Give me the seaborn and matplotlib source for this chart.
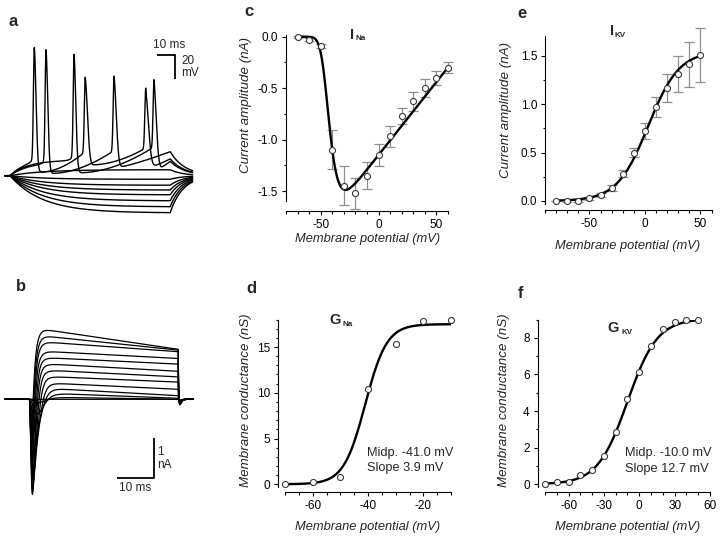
import numpy as np
import pandas as pd
import matplotlib
matplotlib.use("Agg")
import matplotlib.pyplot as plt
from matplotlib.ticker import MultipleLocator
import seaborn as sns

# ---------------- panel c : I_Na current-voltage ----------------
c_v = [-70, -60, -50, -40, -30, -20, -10, 0, 10, 20, 30, 40, 50, 60]
c_i = [0.0, -0.03, -0.09, -1.10, -1.45, -1.52, -1.35, -1.15, -0.97, -0.77, -0.63, -0.50, -0.40, -0.30]
c_err = [0.01, 0.015, 0.02, 0.19, 0.19, 0.15, 0.13, 0.11, 0.10, 0.08, 0.09, 0.085, 0.07, 0.05]
c_fit = dict(g=0.0142, erev=81.0, vh=-48.8, k=4.8)

# ---------------- panel e : I_KV current-voltage ----------------
e_v = [-80, -70, -60, -50, -40, -30, -20, -10, 0, 10, 20, 30, 40, 50]
e_i = [0.0, 0.0, 0.0, 0.03, 0.06, 0.13, 0.28, 0.50, 0.72, 0.97, 1.17, 1.31, 1.41, 1.51]
e_err = [0.005, 0.01, 0.01, 0.015, 0.02, 0.03, 0.035, 0.05, 0.08, 0.10, 0.145, 0.19, 0.235, 0.28]
e_fit = dict(imax=1.55, vh=3.0, k=14.0)

# ---------------- panel d : G_Na ----------------
d_v = [-70, -60, -50, -40, -30, -20, -10]
d_g = [0.0, 0.25, 0.8, 10.45, 15.3, 17.9, 18.0]
d_fit = dict(gmax=17.5, vh=-41.0, k=3.9)
d_text = "Midp. -41.0 mV\nSlope 3.9 mV"

# ---------------- panel f : G_KV ----------------
f_v = [-80, -70, -60, -50, -40, -30, -20, -10, 0, 10, 20, 30, 40, 50]
f_g = [0.0, 0.1, 0.15, 0.5, 0.8, 1.55, 2.88, 4.65, 6.15, 7.58, 8.5, 8.85, 8.97, 9.0]
f_fit = dict(gmax=9.05, vh=-10.0, k=12.7)
f_text = "Midp. -10.0 mV\nSlope 12.7 mV"

# ---------------- panel a : voltage responses (mV rel. to rest, ms) ----------------
a_hyper_ss = [-3, -8, -12, -16, -21, -26, -31]
a_sub_ss = [5]
a_spk_times = [[13.5, 41.8, 75.4], [20.0, 57.8], [35.6, 80.0]]
a_spk_peaks = [[107, 82, 73], [105, 83], [101, 80]]
a_spk_thr = [[16, 20, 23], [14, 21], [18, 24]]
a_spk_ahp = [[3, 9, 8], [2, 7.5], [2.5, 7]]
a_spk_end = [14, 20, 12]
a_t_off = 89.0

# ---------------- panel b : current responses (nA, ms) ----------------
b_na_amp = [0.9, 1.3, 1.7, 2.1, 2.5, 2.4, 2.2, 1.9, 1.4, 0.9, 0.4, 0.1, 0.0]
b_na_tp = [0.6, 0.65, 0.7, 0.75, 0.85, 0.95, 1.1, 1.3, 1.6, 1.9, 2.3, 2.6, 1.0]
b_k_start = [1.80, 1.62, 1.46, 1.22, 1.06, 0.91, 0.75, 0.59, 0.43, 0.30, 0.17, 0.06, 0.0]
b_k_end = [1.25, 1.23, 1.19, 1.02, 0.88, 0.70, 0.56, 0.43, 0.25, 0.09, 0.025, 0.0, 0.0]
b_k_tau = [0.75, 0.8, 0.85, 0.9, 0.95, 1.05, 1.15, 1.25, 1.4, 1.6, 1.9, 2.1, 1.0]
b_t_end = 39.7

# ================= style =================
sns.set_theme(style="ticks")
plt.rcParams['font.family'] = ['Liberation Sans', 'DejaVu Sans']
plt.rcParams['axes.linewidth'] = 0.8
plt.rcParams['axes.unicode_minus'] = False

W, H = 720, 538
fig = plt.figure(figsize=(7.2, 5.38), dpi=100)
fig.patch.set_facecolor('white')


def add_ax(x0, y0, x1, y1):
    return fig.add_axes([x0 / W, 1 - y1 / H, (x1 - x0) / W, (y1 - y0) / H])


def ftext(x, y, s, **kw):
    fig.text(x / W, 1 - y / H, s, **kw)


def style(ax, xlim, ylim, xmaj, xmin, ymaj, ymin, left_off, bottom_off):
    ax.set_xlim(*xlim)
    ax.set_ylim(*ylim)
    ax.set_facecolor('white')
    sns.despine(ax=ax)
    ax.spines['left'].set_position(('outward', left_off * 0.72))
    ax.spines['bottom'].set_position(('outward', bottom_off * 0.72))
    for sp in ('left', 'bottom'):
        ax.spines[sp].set_color('black')
        ax.spines[sp].set_linewidth(0.8)
    ax.xaxis.set_major_locator(MultipleLocator(xmaj))
    ax.xaxis.set_minor_locator(MultipleLocator(xmin))
    ax.yaxis.set_major_locator(MultipleLocator(ymaj))
    ax.yaxis.set_minor_locator(MultipleLocator(ymin))
    ax.tick_params(which='major', direction='out', length=3.2, width=0.8,
                   labelsize=8.5, pad=2.5, colors='black')
    ax.tick_params(which='minor', direction='out', length=1.8, width=0.8, colors='black')
    ax.grid(False)


def labels(ax, box, xlab, xlab_px, ylab, ylab_px):
    x0, y0, x1, y1 = box
    ax.set_xlabel(xlab, fontsize=9.3, style='italic')
    ax.set_ylabel(ylab, fontsize=9.6, style='italic')
    ax.xaxis.set_label_coords((xlab_px[0] - x0) / (x1 - x0), (y1 - xlab_px[1]) / (y1 - y0))
    ax.yaxis.set_label_coords((ylab_px[0] - x0) / (x1 - x0), (y1 - ylab_px[1]) / (y1 - y0))
    ax.xaxis.label.set_va('center')
    ax.yaxis.label.set_va('center')


def points(ax, xs, ys, err=None):
    if err is not None:
        ax.errorbar(xs, ys, yerr=err, fmt='none', ecolor='#8f8f8f', elinewidth=0.9,
                    capsize=3.3, capthick=0.9, zorder=2, clip_on=False)
    sns.scatterplot(x=xs, y=ys, ax=ax, s=19, marker='o', facecolor='white',
                    edgecolor='#3a3a3a', linewidth=0.8, zorder=4, clip_on=False, legend=False)


def boltz(v, vh, k):
    return 1.0 / (1.0 + np.exp((vh - v) / k))


# ================= panel c =================
box_c = (286, 34.6, 448, 201.3)
axc = add_ax(*box_c)
vv = np.linspace(-70, 60, 400)
cc = c_fit['g'] * (vv - c_fit['erev']) * boltz(vv, c_fit['vh'], c_fit['k']) ** 3
sns.lineplot(x=vv, y=cc, ax=axc, color='black', lw=1.7, zorder=3, sort=False)
points(axc, c_v, c_i, c_err)
style(axc, (-80, 60), (-1.6, 0.02), 50, 10, 0.5, 0.25, 0, 9.5)
axc.yaxis.set_major_formatter(matplotlib.ticker.FormatStrFormatter('%.1f'))
labels(axc, box_c, "Membrane potential (mV)", (368, 239), "Current amplitude (nA)", (246.5, 105))

# ================= panel e =================
box_e = (545, 36.3, 711.5, 203.9)
axe = add_ax(*box_e)
vv = np.linspace(-80, 50, 400)
ee = e_fit['imax'] * boltz(vv, e_fit['vh'], e_fit['k'])
sns.lineplot(x=vv, y=ee, ax=axe, color='black', lw=1.7, zorder=3, sort=False)
points(axe, e_v, e_i, e_err)
style(axe, (-90, 60), (-0.03, 1.7), 50, 10, 0.5, 0.25, 0, 6)
axe.yaxis.set_major_formatter(matplotlib.ticker.FormatStrFormatter('%.1f'))
labels(axe, box_e, "Membrane potential (mV)", (628, 246), "Current amplitude (nA)", (506.5, 110))

# ================= panel d =================
box_d = (285, 319.6, 451, 487)
axd = add_ax(*box_d)
vv = np.linspace(-70, -10, 400)
dd = d_fit['gmax'] * boltz(vv, d_fit['vh'], d_fit['k'])
sns.lineplot(x=vv, y=dd, ax=axd, color='black', lw=1.7, zorder=3, sort=False)
points(axd, d_v, d_g)
style(axd, (-70, -10), (-0.3, 18), 20, 5, 5, 1, 7, 4.7)
labels(axd, box_d, "Membrane potential (mV)", (368, 527), "Membrane conductance (nS)", (246.5, 400))
ftext(367.3, 460.5, d_text, fontsize=9.2, ha='left', va='center', linespacing=1.35)

# ================= panel f =================
box_f = (545, 319.6, 710, 487)
axf = add_ax(*box_f)
vv = np.linspace(-80, 50, 400)
ff = f_fit['gmax'] * boltz(vv, f_fit['vh'], f_fit['k'])
sns.lineplot(x=vv, y=ff, ax=axf, color='black', lw=1.7, zorder=3, sort=False)
points(axf, f_v, f_g)
style(axf, (-80, 60), (-0.15, 9), 30, 10, 2, 1, 7.3, 4.7)
labels(axf, box_f, "Membrane potential (mV)", (628, 527), "Membrane conductance (nS)", (503.5, 400))
ftext(625, 461, f_text, fontsize=9.2, ha='left', va='center', linespacing=1.35)

# ================= panel a : voltage traces =================
ta = np.arange(-2.8, 101.5, 0.04)


def passive(ss, tau=18.0, tau_off=7.0):
    v = np.where(ta < 0, 0.0, ss * (1 - np.exp(-np.clip(ta, 0, None) / tau)))
    v_off = ss * (1 - np.exp(-a_t_off / tau))
    return np.where(ta > a_t_off, v_off * np.exp(-(ta - a_t_off) / tau_off), v)


def spiking(times, peaks, thrs, ahps, v_end):
    slow = np.zeros_like(ta)
    t1, th1 = times[0], thrs[0]
    b = 0.3 * th1
    a = (th1 - b) / (1 - np.exp(-t1 / 10))
    m = (ta >= 0) & (ta < t1)
    slow[m] = a * (1 - np.exp(-ta[m] / 10)) + b * np.exp((ta[m] - t1) / 1.5)
    n = len(times)
    for i in range(n):
        ts, th, ah = times[i], thrs[i], ahps[i]
        t_a = ts + 4.0
        m = (ta >= ts) & (ta < t_a)
        slow[m] = th + (ah - th) * (1 - np.exp(-(ta[m] - ts) / 1.0)) / (1 - np.exp(-4.0 / 1.0))
        if i + 1 < n:
            tn, thn = times[i + 1], thrs[i + 1]
            m = (ta >= t_a) & (ta < tn)
            u = (ta[m] - t_a) / (tn - t_a)
            slow[m] = ah + (thn - ah) * u ** 1.8
        else:
            m = (ta >= t_a) & (ta <= a_t_off)
            u = (ta[m] - t_a) / (a_t_off - t_a)
            slow[m] = ah + (v_end - ah) * u ** 1.2
            m = ta > a_t_off
            slow[m] = v_end * np.exp(-(ta[m] - a_t_off) / 8.0)
    v = slow.copy()
    for i in range(n):
        dt = ta - times[i]
        w = np.where(dt < 0, 0.7, 1.4 + 0.45 * i)
        v += (peaks[i] - thrs[i]) * np.exp(-(dt / w) ** 2)
    return v


a_rows = []
k = 0
for ss in a_hyper_ss + a_sub_ss:
    a_rows.append(pd.DataFrame({'t': ta, 'v': passive(ss), 'trace': k}))
    k += 1
for i in range(len(a_spk_times)):
    a_rows.append(pd.DataFrame({'t': ta, 'v': spiking(a_spk_times[i], a_spk_peaks[i], a_spk_thr[i],
                                                      a_spk_ahp[i], a_spk_end[i]), 'trace': k}))
    k += 1
df_a = pd.concat(a_rows, ignore_index=True)

axa = add_ax(0, 30, 200, 230)
sns.lineplot(data=df_a, x='t', y='v', units='trace', estimator=None, ax=axa,
             color='black', lw=1.0, legend=False, sort=False)
axa.set_xlim((0 - 10) / 1.8, (200 - 10) / 1.8)
axa.set_ylim((175.7 - 230) / 1.2, (175.7 - 30) / 1.2)
axa.axis('off')
# scale bar 10 ms / 20 mV
axa.plot([81.67, 91.67, 91.67], [100.6, 100.6, 80.6], color='black', lw=1.3, solid_capstyle='butt')
axa.text(88.3, 109.3, "10 ms", fontsize=8.5, ha='center', va='center')
axa.text(95.2, 96.0, "20", fontsize=8.5, ha='left', va='center')
axa.text(95.2, 85.5, "mV", fontsize=8.5, ha='left', va='center')

# ================= panel b : current traces =================
tb = np.arange(-6.5, 43.8, 0.02)


def current(na_amp, na_tp, k_start, k_end, k_tau):
    s = np.clip(tb, 0, None)
    na = -na_amp * (s / na_tp) ** 3 * np.exp(3 * (1 - s / na_tp))
    kk = (1 - np.exp(-s / k_tau)) ** 4 * (k_start - (k_start - k_end) * s / b_t_end)
    i = np.where(tb < 0, 0.0, na + kk)
    i_end = np.interp(b_t_end, tb, i)
    d = np.clip(tb - b_t_end, 0, None)
    tail = 0.03 + 0.15 * k_end / 1.25
    after = i_end * np.exp(-d / 0.12) - tail * (d / 0.3) * np.exp(1 - d / 0.3)
    return np.where(tb > b_t_end, after, i)


b_rows = []
for j in range(len(b_na_amp)):
    b_rows.append(pd.DataFrame({'t': tb, 'i': current(b_na_amp[j], b_na_tp[j], b_k_start[j],
                                                      b_k_end[j], b_k_tau[j]), 'trace': j}))
df_b = pd.concat(b_rows, ignore_index=True)

axb = add_ax(0, 300, 200, 520)
sns.lineplot(data=df_b, x='t', y='i', units='trace', estimator=None, ax=axb,
             color='black', lw=0.9, legend=False, sort=False)
axb.set_xlim((0 - 29.3) / 3.75, (200 - 29.3) / 3.75)
axb.set_ylim((399.3 - 520) / 40, (399.3 - 300) / 40)
axb.axis('off')
axb.plot([23.3, 33.25, 33.25], [-1.975, -1.975, -0.975], color='black', lw=1.3, solid_capstyle='butt')
axb.text(34.1, -1.31, "1", fontsize=8.5, ha='left', va='center')
axb.text(34.1, -1.64, "nA", fontsize=8.5, ha='left', va='center')
axb.text(28.3, -2.21, "10 ms", fontsize=8.5, ha='center', va='center')

# ================= panel letters & titles =================
for lab, x, y in [('a', 12.7, 21.7), ('b', 20.7, 286.7), ('c', 249.3, 12.0),
                  ('e', 521.7, 13.3), ('d', 251.7, 288.3), ('f', 520, 293.3)]:
    ftext(x, y, lab, fontsize=12, fontweight='bold', ha='center', va='center')

for main, sub, x, y, xs, ys in [('I', 'Na', 352.3, 34.7, 355.5, 38.8),
                                ('I', 'KV', 611.7, 31.0, 614.8, 35.8),
                                ('G', 'Na', 334.7, 320.0, 342.5, 324.5),
                                ('G', 'KV', 613.3, 328.3, 621.0, 333.0)]:
    ftext(x, y, main, fontsize=10.5, fontweight='bold', ha='center', va='center')
    ftext(xs, ys, sub, fontsize=5.8, fontweight='bold', ha='left', va='center')

fig.savefig("out.png", dpi=100, facecolor='white')
